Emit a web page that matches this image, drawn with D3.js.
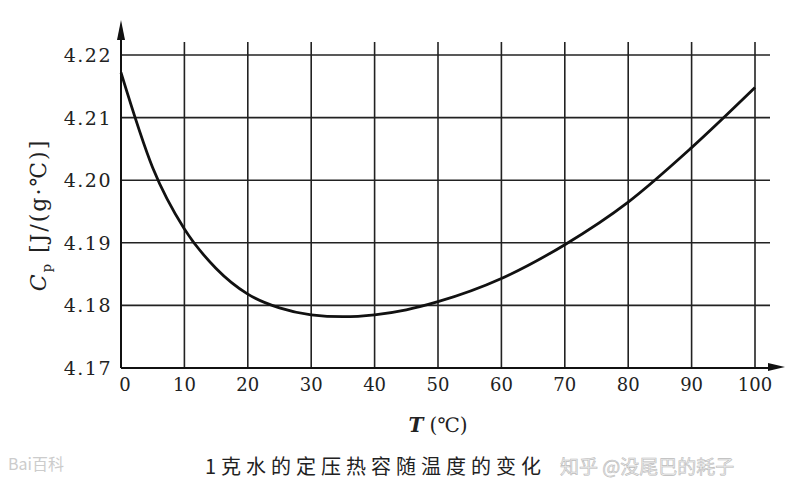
<!DOCTYPE html>
<html><head><meta charset="utf-8">
<script src="https://cdn.jsdelivr.net/npm/d3@7"></script>
<style>body{margin:0;background:#fff}</style>
</head><body><div id="chart"></div>
<script>
// data
var temps = [0, 5, 10, 15, 20, 25, 30, 35, 40, 45, 50, 60, 70, 80, 90, 100];
var cp = [4.2172, 4.2020, 4.1922, 4.1859, 4.1818, 4.1796, 4.1785, 4.1782, 4.1785, 4.1793, 4.1806, 4.1843, 4.1897, 4.1965, 4.2052, 4.2148];
var xTicks = [0, 10, 20, 30, 40, 50, 60, 70, 80, 90, 100];
var yTicks = [4.17, 4.18, 4.19, 4.20, 4.21, 4.22];

var svg = d3.select("#chart").append("svg")
   .attr("width", 800).attr("height", 502)
   .style("font-family", "'DejaVu Serif', 'Liberation Serif', serif");

var x = d3.scaleLinear().domain([0, 100]).range([121, 755]);
var y = d3.scaleLinear().domain([4.17, 4.22]).range([368, 55]);

// grid
svg.append("g").selectAll("line").data(yTicks.slice(1)).join("line")
   .attr("x1", 121).attr("x2", 770)
   .attr("y1", d => y(d)).attr("y2", d => y(d))
   .attr("stroke", "#222").attr("stroke-width", 1.6);
svg.append("g").selectAll("line").data(xTicks.slice(1)).join("line")
   .attr("x1", d => x(d)).attr("x2", d => x(d))
   .attr("y1", 42).attr("y2", 368)
   .attr("stroke", "#222").attr("stroke-width", 1.6);

// axes with arrows
svg.append("line").attr("x1", 121).attr("x2", 121).attr("y1", 30).attr("y2", 368)
   .attr("stroke", "#111").attr("stroke-width", 2);
svg.append("path").attr("d", "M121,20 L117,40 L125,40 Z").attr("fill", "#111");
svg.append("line").attr("x1", 121).attr("x2", 775).attr("y1", 368).attr("y2", 368)
   .attr("stroke", "#111").attr("stroke-width", 2);
svg.append("path").attr("d", "M785,367 L768,363 L768,371 Z").attr("fill", "#111");

// tick labels
svg.append("g").selectAll("text").data(yTicks).join("text")
   .attr("x", 112).attr("y", d => y(d) + 7)
   .attr("text-anchor", "end").attr("font-size", 19).attr("letter-spacing", 1.5).attr("fill", "#222")
   .text(d => d.toFixed(2));
svg.append("g").selectAll("text").data(xTicks).join("text")
   .attr("x", d => x(d) + (d === 0 ? 4 : 0)).attr("y", 391)
   .attr("text-anchor", "middle").attr("font-size", 18).attr("fill", "#222")
   .text(d => d);

// curve
svg.append("path").datum(temps.map((t, i) => [t, cp[i]]))
   .attr("d", d3.line().x(d => x(d[0])).y(d => y(d[1])).curve(d3.curveMonotoneX))
   .attr("fill", "none").attr("stroke", "#111").attr("stroke-width", 2.8);

// titles
svg.append("text").attr("transform", "translate(46,215) rotate(-90)")
   .attr("text-anchor", "middle").attr("font-size", 22).attr("letter-spacing", 2).attr("fill", "#222")
   .html("<tspan font-style='italic'>C</tspan><tspan font-size='13' dy='5'>p</tspan><tspan dy='-5'> [J/(g·℃)]</tspan>");
svg.append("text").attr("x", 438).attr("y", 432).attr("text-anchor", "middle")
   .attr("font-size", 20).attr("fill", "#222")
   .html("<tspan font-style='italic' font-weight='bold'>T</tspan> (℃)");
svg.append("text").attr("x", 205).attr("y", 474)
   .attr("font-size", 20).attr("fill", "#222").attr("letter-spacing", 5)
   .style("font-family", "'Noto Sans CJK SC', sans-serif")
   .text("1克水的定压热容随温度的变化");

// watermarks
svg.append("text").attr("x", 8).attr("y", 470).attr("font-size", 16).attr("fill", "#ccc")
   .style("font-family", "'Noto Sans CJK SC', sans-serif").text("Bai百科");
svg.append("text").attr("x", 560).attr("y", 474).attr("font-size", 19).attr("fill", "#eee")
   .attr("stroke", "#bbb").attr("stroke-width", 0.6)
   .style("font-family", "'Noto Sans CJK SC', sans-serif").text("知乎 @没尾巴的耗子");
</script></body></html>
